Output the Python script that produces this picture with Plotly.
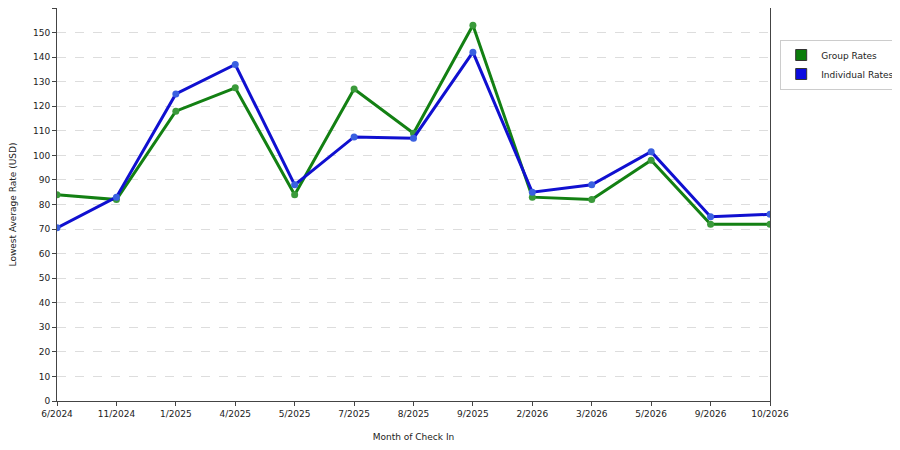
import plotly.graph_objects as go

months = ["6/2024","11/2024","1/2025","4/2025","5/2025","7/2025","8/2025","9/2025","2/2026","3/2026","5/2026","9/2026","10/2026"]
group_rates = [84, 82, 118, 127.5, 84, 127, 109, 153, 83, 82, 98, 72, 72]
individual_rates = [70.5, 83, 125, 137, 88, 107.5, 107, 142, 85, 88, 101.5, 75, 76]
yticks = list(range(0, 161, 10))

x = list(range(len(months)))
fig = go.Figure()
fig.add_trace(go.Scatter(x=x, y=group_rates, name="Group Rates", mode="lines+markers",
                         line=dict(color="#138013", width=3), marker=dict(color="#3a9a3a", size=7)))
fig.add_trace(go.Scatter(x=x, y=individual_rates, name="Individual Rates", mode="lines+markers",
                         line=dict(color="#1010d0", width=3), marker=dict(color="#3a60e0", size=7)))
# legend-only proxies with square symbols
fig.data[0].showlegend = False
fig.data[1].showlegend = False
fig.add_trace(go.Scatter(x=[None], y=[None], name="Group Rates", mode="markers",
                         marker=dict(symbol="square", size=11, color="#0a7d0a", line=dict(color="#333", width=1))))
fig.add_trace(go.Scatter(x=[None], y=[None], name="Individual Rates", mode="markers",
                         marker=dict(symbol="square", size=11, color="#0a0ae0", line=dict(color="#333", width=1))))
fig.update_layout(
    width=900, height=450, paper_bgcolor="white", plot_bgcolor="white",
    margin=dict(l=49, r=138, t=0, b=57, autoexpand=False),
    font=dict(family="DejaVu Sans", size=9, color="#222"),
    legend=dict(xref="container", yref="container", x=0.858, y=0.93, xanchor="left", yanchor="top",
                bordercolor="#ccc", borderwidth=1, font=dict(size=9), tracegroupgap=2),
    xaxis=dict(range=[0, 12], tickmode="array", tickvals=x, ticktext=months, showgrid=False,
               showline=True, linecolor="#444", mirror=True, ticks="outside", ticklen=4,
               title=dict(text="Month of Check In", font=dict(size=9)), zeroline=False, automargin=False),
    yaxis=dict(range=[0, 160], tickvals=yticks, showgrid=True, gridcolor="#ddd", griddash="dash",
               showline=True, linecolor="#444", mirror=True, ticks="outside", ticklen=4,
               title=dict(text="Lowest Average Rate (USD)", font=dict(size=9)), zeroline=False, automargin=False),
)
fig.write_html("out.html")
